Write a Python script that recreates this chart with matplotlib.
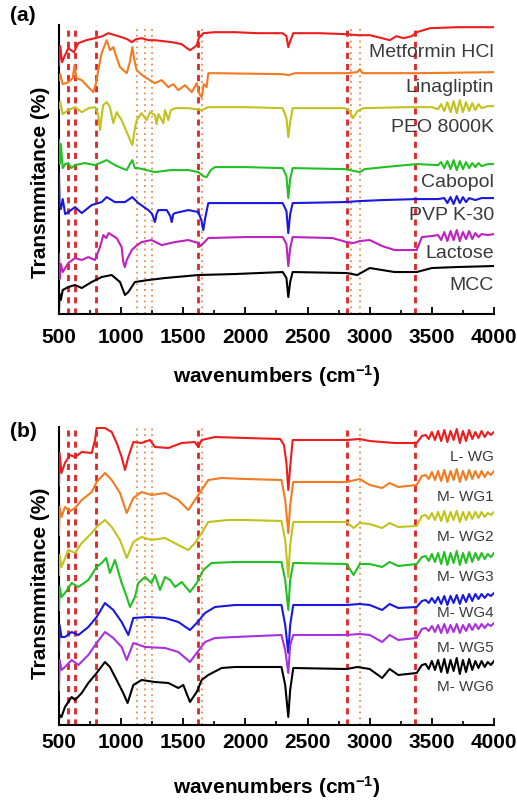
import matplotlib.pyplot as plt
from matplotlib.ticker import MultipleLocator

plt.rcParams['font.family'] = ['Liberation Sans', 'DejaVu Sans']
plt.rcParams['mathtext.fontset'] = 'custom'
plt.rcParams['mathtext.rm'] = 'Liberation Sans:bold'
plt.rcParams['mathtext.bf'] = 'Liberation Sans:bold'
plt.rcParams['mathtext.it'] = 'Liberation Sans:bold'

# ---------------- panel (a): raw materials (offset transmittance, a.u.) ----------------
metformin_x = [500, 510, 525, 545, 575, 620, 655, 720, 790, 850, 897, 950, 1004, 1050, 1085, 1120, 1165, 1220,
               1272, 1340, 1407, 1450, 1487, 1530, 1554, 1590, 1608, 1625, 1661, 1750, 1916, 2100, 2300, 2330,
               2345, 2360, 2385, 2600, 2814, 2900, 3002, 3100, 3163, 3200, 3217, 3271, 3338, 3378, 3485, 3700, 4000]
metformin_y = [249, 268, 252, 258, 266, 262, 271, 274, 276, 278, 281, 279, 277, 275, 272, 275, 276, 274,
               274, 273, 272, 271, 270, 266, 264, 267, 269, 276, 281, 282, 282, 281, 281, 278,
               267, 273, 281, 281, 280, 279, 279, 276, 274, 277, 278, 276, 278, 282, 286, 287, 287]

linagliptin_x = [500, 510, 530, 575, 610, 625, 640, 683, 736, 776, 800, 816, 843, 884, 910, 937, 960, 991, 1045,
                 1070, 1090, 1105, 1125, 1160, 1192, 1230, 1272, 1326, 1380, 1420, 1460, 1514, 1568, 1608, 1630,
                 1648, 1665, 1688, 1701, 1750, 2300, 2345, 2400, 2814, 2900, 2921, 2940, 3400, 4000]
linagliptin_y = [234, 240, 230, 232, 236, 249, 236, 234, 227, 222, 232, 244, 261, 274, 264, 267, 258, 247, 241,
                 252, 267, 255, 244, 240, 237, 234, 231, 234, 227, 230, 224, 229, 222, 231, 220,
                 217, 230, 227, 241, 241, 240, 239, 241, 241, 242, 245, 241, 241, 242]

peo_x = [500, 510, 530, 575, 629, 683, 740, 790, 815, 830, 845, 856, 884, 910, 937, 964, 1004, 1045, 1090, 1110,
         1125, 1165, 1205, 1232, 1272, 1285, 1300, 1340, 1353, 1380, 1400, 1434, 1541, 1600, 1648, 1701, 2000,
         2300, 2330, 2345, 2360, 2380, 2800, 2840, 2866, 2900, 2950, 3300, 3500, 3550, 3575, 3600, 3625, 3650,
         3675, 3700, 3725, 3750, 3775, 3800, 3825, 3850, 3875, 3900, 3950, 4000]
peo_y = [206, 212, 200, 204, 207, 202, 206, 207, 200, 184, 200, 209, 212, 207, 191, 202, 194, 182, 169, 185,
         194, 201, 194, 202, 199, 190, 200, 191, 204, 194, 204, 206, 206, 205, 204, 207, 207,
         206, 196, 177, 192, 206, 206, 203, 196, 203, 206, 207, 207, 205, 210, 203, 212, 202, 213,
         201, 214, 202, 212, 203, 211, 204, 210, 206, 208, 208]

cabopol_x = [500, 505, 515, 530, 550, 575, 600, 629, 709, 790, 884, 950, 1004, 1045, 1070, 1090, 1110, 1138,
             1272, 1400, 1541, 1621, 1660, 1688, 1720, 1755, 2000, 2300, 2330, 2345, 2360, 2380, 2800, 2880,
             2920, 2960, 3200, 3378, 3550, 3575, 3600, 3625, 3650, 3675, 3700, 3725, 3750, 3775, 3800, 3825,
             3850, 3875, 3900, 3950, 4000]
cabopol_y = [174, 150, 170, 146, 150, 151, 146, 149, 151, 149, 154, 149, 146, 144, 150, 154, 146, 146,
             142, 144, 144, 142, 138, 137, 144, 147, 147, 146, 138, 116, 135, 146, 145, 143,
             142, 145, 148, 150, 149, 152, 146, 153, 145, 154, 144, 153, 145, 152, 146, 151,
             147, 151, 148, 150, 150]

pvp_x = [500, 505, 515, 530, 550, 575, 629, 683, 763, 843, 884, 950, 1031, 1090, 1138, 1219, 1250, 1272, 1285,
         1299, 1367, 1395, 1407, 1420, 1434, 1541, 1621, 1645, 1661, 1675, 1701, 1800, 2300, 2330, 2345, 2360,
         2380, 2800, 2920, 3100, 3378, 3550, 3600, 3625, 3650, 3675, 3700, 3725, 3750, 3775, 3800, 3850, 3900,
         4000]
pvp_y = [140, 110, 105, 115, 100, 102, 107, 101, 109, 112, 117, 112, 112, 117, 111, 104, 100, 92, 100,
         104, 104, 98, 92, 100, 101, 104, 102, 94, 84, 95, 111, 111, 111, 103, 81, 100,
         111, 112, 113, 114, 115, 115, 116, 111, 117, 110, 118, 111, 117, 112, 116, 114, 116,
         116]

lactose_x = [500, 505, 515, 530, 575, 629, 683, 736, 790, 830, 857, 880, 900, 924, 964, 1004, 1017, 1030, 1045,
             1085, 1120, 1165, 1245, 1326, 1434, 1541, 1621, 1640, 1701, 2000, 2300, 2330, 2345, 2360, 2380,
             2700, 2814, 2870, 2920, 3000, 3100, 3200, 3378, 3420, 3500, 3550, 3575, 3600, 3625, 3650, 3675,
             3700, 3725, 3750, 3775, 3800, 3825, 3850, 3875, 3900, 3950, 4000]
lactose_y = [60, 35, 50, 42, 51, 56, 54, 57, 54, 67, 79, 76, 81, 79, 76, 67, 52, 47, 54,
             64, 68, 72, 74, 69, 72, 74, 71, 68, 76, 77, 77, 70, 48, 66, 77,
             76, 72, 71, 73, 74, 68, 64, 64, 77, 78, 79, 74, 82, 73, 83, 74,
             84, 73, 82, 75, 83, 75, 81, 77, 80, 79, 80]

mcc_x = [500, 505, 515, 530, 575, 629, 683, 763, 843, 924, 991, 1031, 1058, 1111, 1219, 1353, 1621, 1916, 2300,
         2330, 2345, 2360, 2380, 2814, 2900, 3000, 3100, 3200, 3378, 3500, 3700, 4000]
mcc_y = [4, 20, 14, 24, 27, 29, 26, 32, 37, 39, 32, 19, 22, 32, 34, 36, 39, 40, 42,
         36, 17, 32, 42, 41, 39, 46, 44, 42, 42, 46, 47, 48]

# ---------------- panel (b): wet granulation batches ----------------
noise_x_b = [3450, 3475, 3500, 3525, 3550, 3575, 3600, 3625, 3650, 3675, 3700, 3725, 3750, 3775, 3800, 3825,
             3850, 3875, 3900, 3925, 3950, 3975, 4000]

lwg_x = [500, 505, 520, 548, 589, 629, 683, 763, 790, 803, 870, 924, 964, 1004, 1031, 1058, 1098, 1165, 1232,
         1272, 1380, 1487, 1594, 1620, 1648, 1755, 2000, 2280, 2310, 2330, 2345, 2360, 2380, 2600, 2814, 2920,
         3000, 3200, 3378, 3420] + noise_x_b
lwg_y = [240, 272, 252, 262, 270, 268, 273, 272, 285, 297, 297, 293, 282, 268, 255, 268, 283, 282, 285,
         278, 277, 282, 283, 278, 285, 288, 287, 286, 280, 262, 235, 258, 285, 285, 285, 286,
         284, 282, 282, 289,
         290, 286, 293, 285, 294, 284, 295, 283, 294, 285, 296, 282, 294, 284, 295, 286,
         293, 287, 294, 288, 293, 290, 293]

wg1_x = [500, 505, 520, 548, 590, 629, 683, 763, 803, 870, 924, 991, 1045, 1098, 1165, 1245, 1353, 1460, 1541,
         1594, 1648, 1701, 1809, 2000, 2290, 2320, 2345, 2360, 2385, 2814, 2920, 3000, 3100, 3160, 3230, 3378,
         3420] + noise_x_b
wg1_y = [190, 218, 208, 218, 214, 217, 225, 233, 243, 252, 245, 232, 212, 227, 233, 230, 232, 225, 215,
         225, 235, 245, 247, 246, 245, 225, 192, 220, 243, 243, 246, 240, 237, 242, 238, 240,
         249,
         250, 246, 253, 245, 254, 244, 255, 243, 254, 245, 256, 243, 254, 245, 255, 246,
         254, 247, 254, 248, 253, 250, 254]

wg2_x = [500, 505, 520, 575, 629, 683, 763, 803, 870, 924, 991, 1045, 1098, 1165, 1245, 1353, 1460, 1541, 1594,
         1648, 1701, 1862, 2000, 2290, 2320, 2345, 2360, 2385, 2814, 2870, 2920, 3000, 3100, 3160, 3230, 3378,
         3420] + noise_x_b
wg2_y = [150, 170, 158, 175, 172, 182, 192, 198, 205, 198, 185, 167, 183, 188, 185, 187, 180, 175, 182,
         192, 203, 205, 205, 204, 185, 148, 180, 203, 203, 197, 202, 201, 197, 202, 198, 199,
         209,
         210, 206, 212, 205, 213, 204, 214, 203, 213, 205, 214, 203, 213, 205, 213, 206,
         213, 207, 213, 208, 212, 210, 213]

wg3_x = [500, 505, 520, 548, 602, 656, 736, 803, 843, 880, 910, 950, 1004, 1040, 1071, 1111, 1138, 1192, 1245,
         1272, 1313, 1353, 1394, 1434, 1487, 1554, 1608, 1661, 1728, 1916, 2290, 2320, 2345, 2360, 2385, 2814,
         2870, 2920, 3000, 3100, 3160, 3230, 3378, 3420] + noise_x_b
wg3_y = [115, 138, 128, 132, 142, 138, 145, 158, 162, 167, 152, 165, 142, 130, 118, 128, 142, 148, 142,
         150, 135, 148, 145, 138, 143, 133, 142, 155, 162, 163, 163, 145, 115, 145, 162, 161,
         150, 161, 161, 158, 163, 159, 161, 168,
         169, 164, 171, 163, 172, 161, 173, 160, 172, 162, 174, 160, 172, 162, 173, 163,
         172, 165, 172, 166, 171, 168, 172]

wg4_x = [500, 505, 520, 548, 602, 656, 736, 803, 870, 937, 1004, 1058, 1098, 1219, 1353, 1460, 1554, 1608, 1675,
         1755, 1916, 2290, 2320, 2345, 2360, 2385, 2814, 2920, 3000, 3100, 3160, 3230, 3378, 3420] + noise_x_b
wg4_y = [75, 100, 88, 88, 93, 90, 98, 108, 122, 115, 103, 90, 107, 108, 107, 103, 95, 102, 112,
         118, 120, 120, 100, 72, 100, 120, 120, 121, 120, 115, 121, 117, 118, 124,
         125, 122, 127, 122, 128, 121, 129, 120, 129, 122, 130, 121, 130, 123, 131, 124,
         131, 126, 131, 127, 131, 129, 132]

wg5_x = [500, 505, 520, 548, 602, 656, 736, 803, 870, 937, 1004, 1045, 1098, 1192, 1353, 1460, 1554, 1608, 1675,
         1755, 1916, 2290, 2320, 2345, 2360, 2385, 2814, 2920, 3000, 3100, 3160, 3230, 3378, 3420] + noise_x_b
wg5_y = [35, 65, 55, 58, 65, 60, 70, 82, 93, 87, 78, 65, 82, 78, 77, 73, 63, 72, 83,
         87, 88, 90, 75, 52, 80, 90, 90, 91, 90, 83, 90, 85, 87, 96,
         97, 94, 99, 93, 100, 92, 101, 92, 100, 93, 101, 92, 100, 94, 101, 95,
         101, 96, 101, 97, 101, 99, 102]

wg6_x = [500, 505, 520, 548, 602, 629, 683, 736, 803, 870, 910, 964, 1017, 1052, 1098, 1165, 1272, 1380, 1460,
         1500, 1554, 1608, 1648, 1701, 1809, 1916, 2290, 2320, 2345, 2360, 2385, 2814, 2900, 3000, 3100, 3160,
         3230, 3378, 3420] + noise_x_b
wg6_y = [5, 10, 8, 18, 28, 25, 32, 42, 52, 63, 58, 45, 32, 22, 40, 45, 43, 42, 37,
         40, 23, 33, 45, 50, 57, 58, 58, 40, 8, 35, 57, 56, 58, 56, 47, 56,
         50, 52, 60,
         61, 56, 64, 55, 65, 53, 66, 52, 65, 54, 67, 51, 65, 53, 66, 55,
         64, 57, 64, 58, 63, 60, 64]

names_a = ['Metformin HCl', 'Linagliptin', 'PEO 8000K', 'Cabopol', 'PVP K-30', 'Lactose', 'MCC']
names_b = ['L- WG', 'M- WG1', 'M- WG2', 'M- WG3', 'M- WG4', 'M- WG5', 'M- WG6']

series_a = [(metformin_x, metformin_y), (linagliptin_x, linagliptin_y), (peo_x, peo_y),
            (cabopol_x, cabopol_y), (pvp_x, pvp_y), (lactose_x, lactose_y), (mcc_x, mcc_y)]
series_b = [(lwg_x, lwg_y), (wg1_x, wg1_y), (wg2_x, wg2_y), (wg3_x, wg3_y),
            (wg4_x, wg4_y), (wg5_x, wg5_y), (wg6_x, wg6_y)]

colors_a = ['#ee1c1c', '#f47a20', '#c2c21c', '#22c022', '#1818e0', '#c020c0', '#000000']
colors_b = ['#ee1c1c', '#f47a20', '#c2c21c', '#22c022', '#1818e0', '#a830e0', '#000000']

# label heights (same units as the spectra)
label_y_a = [262, 227, 187, 132, 99, 61, 29]
label_y_b = [268, 228, 188, 148, 112, 77, 38]

dashed_a = [570, 629, 798, 1621, 2814, 3364]
dotted_a = [1125, 1192, 1246, 1650, 2846, 2921]
dashed_b = [570, 629, 798, 1621, 2814, 3364]
dotted_b = [1125, 1192, 1246, 1650, 2921]

fig = plt.figure(figsize=(5.17, 8.0), dpi=100)
ax_a = fig.add_axes([0.1141, 0.6075, 0.8414, 0.361])
ax_b = fig.add_axes([0.1141, 0.09375, 0.8414, 0.3725])


def draw_panel(ax, series, colors, names, label_y, dashed, dotted, ymax, label_size, tick_pad, xlab_pad, ylab_y):
    for wn in dashed:
        ax.axvline(wn, color='#e02424', lw=2.0, ls=(0, (2.2, 1.8)), zorder=1)
    for wn in dotted:
        ax.axvline(wn, color='#f08a50', lw=1.3, ls=(0, (1, 2.2)), zorder=1)
    for (x, y), c in zip(series, colors):
        ax.plot(x, y, color=c, lw=1.5, zorder=3)
    for name, ly in zip(names, label_y):
        ax.text(4000, ly, name, ha='right', va='center', fontsize=label_size, color='#3a3a3a', zorder=4)
    ax.set_xlim(500, 4000)
    ax.set_ylim(0, ymax)
    ax.spines['top'].set_visible(False)
    ax.spines['right'].set_visible(False)
    ax.spines['left'].set_linewidth(1.5)
    ax.spines['bottom'].set_linewidth(1.5)
    ax.spines['left'].set_zorder(2)
    ax.set_yticks([])
    ax.xaxis.set_major_locator(MultipleLocator(500))
    ax.xaxis.set_minor_locator(MultipleLocator(250))
    ax.tick_params(axis='x', which='major', direction='in', length=5, width=1.3, labelsize=15, pad=tick_pad)
    ax.tick_params(axis='x', which='minor', direction='in', length=3, width=1.2)
    for lab in ax.get_xticklabels():
        lab.set_fontweight('bold')
    ax.set_xlabel(r'wavenumbers (cm$^{-1}$)', fontsize=15, fontweight='bold', labelpad=xlab_pad)
    ax.set_ylabel('Transmmitance (%)', fontsize=15, fontweight='bold')
    ax.yaxis.set_label_coords(-0.021, ylab_y)


draw_panel(ax_a, series_a, colors_a, names_a, label_y_a, dashed_a, dotted_a, 289, 14, 10, 12, 0.455)
draw_panel(ax_b, series_b, colors_b, names_b, label_y_b, dashed_b, dotted_b, 298, 11, 6, 16, 0.475)

fig.text(0.02, 0.981, '(a)', fontsize=15, fontweight='bold', va='center', ha='left')
fig.text(0.02, 0.461, '(b)', fontsize=15, fontweight='bold', va='center', ha='left')

plt.savefig('out.png', dpi=100)
plt.close()
